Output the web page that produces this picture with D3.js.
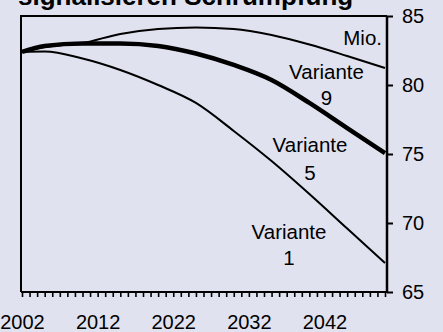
<!DOCTYPE html>
<html><head><meta charset="utf-8">
<script src="https://cdn.jsdelivr.net/npm/d3@7/dist/d3.min.js"></script>
<style>
html,body{margin:0;padding:0;background:#e0e2ef;}
svg{display:block;font-family:"Liberation Sans",Arial,sans-serif;}
</style></head>
<body>
<svg id="c" width="443" height="332"></svg>
<script>
const title = "signalisieren Schrumpfung";
const years = [2002, 2005, 2010, 2015, 2020, 2025, 2030, 2035, 2040, 2045, 2050];
const variante9 = [82.4, 82.75, 83.04, 83.7, 84.06, 84.17, 84.06, 83.62, 82.93, 82.1, 81.23];
const variante5 = [82.4, 82.83, 83.01, 83.01, 82.83, 82.28, 81.45, 80.36, 78.70, 76.88, 75.07];
const variante1 = [82.4, 82.43, 81.92, 81.09, 80.0, 78.70, 76.67, 74.49, 72.10, 69.6, 67.1];
const xTickLabels = [2002, 2012, 2022, 2032, 2042];
const yTickLabels = [65, 70, 75, 80, 85];
const unitLabel = "Mio.";
const seriesNames = ["Variante", "Variante", "Variante"];
const seriesNums = ["9", "5", "1"];

const svg = d3.select("#c");
const pL = 21, pR = 387, pT = 16, pB = 292;
const x = d3.scaleLinear().domain([2002, 2050]).range([22, 385]);
const y = d3.scaleLinear().domain([65, 85]).range([pB, pT]);

svg.append("text").attr("x", 18).attr("y", 5)
  .attr("font-size", 26).attr("font-weight", "bold").text(title);

const line = d3.line().x(d => x(d[0])).y(d => y(d[1])).curve(d3.curveMonotoneX);
const series = [
  {vals: variante9, w: 2},
  {vals: variante1, w: 2},
  {vals: variante5, w: 4.5}
];
series.forEach(s => {
  svg.append("path").datum(years.map((yr, i) => [yr, s.vals[i]]))
    .attr("d", line).attr("fill", "none").attr("stroke", "#000")
    .attr("stroke-width", s.w).attr("stroke-linejoin", "round");
});

// frame
const fr = svg.append("g").attr("stroke", "#000").attr("stroke-width", 2).attr("fill", "none");
fr.append("line").attr("x1", pL).attr("x2", pL).attr("y1", pT).attr("y2", pB);
fr.append("line").attr("x1", pL - 1).attr("x2", pR).attr("y1", pT).attr("y2", pT);
fr.append("line").attr("x1", pL).attr("x2", pR).attr("y1", pB).attr("y2", pB);

// right axis
const yAxis = d3.axisRight(y).tickValues(yTickLabels).tickSize(6).tickPadding(9);
const ga = svg.append("g").attr("transform", `translate(${pR},0)`).call(yAxis);
ga.select(".domain").attr("stroke-width", 2.5).attr("d", `M0,${pT}V${pB}`);
ga.selectAll(".tick line").attr("stroke-width", 2);
ga.selectAll("text").attr("font-size", 20).attr("font-family", "Liberation Sans, Arial, sans-serif").attr("fill", "#000");

// bottom axis minor ticks
const yearTicks = d3.range(2002, 2051);
const gb = svg.append("g").attr("transform", `translate(0,${pB})`)
  .call(d3.axisBottom(x).tickValues(yearTicks).tickSize(5).tickFormat(""));
gb.select(".domain").remove();
gb.selectAll(".tick line").attr("stroke-width", 1.6);

// bottom labels
const gl = svg.append("g").attr("transform", `translate(0,${pB})`)
  .call(d3.axisBottom(x).tickValues(xTickLabels).tickSize(0).tickPadding(23).tickFormat(d3.format("d")));
gl.select(".domain").remove();
gl.selectAll("text").attr("font-size", 20).attr("font-family", "Liberation Sans, Arial, sans-serif").attr("fill", "#000");

// labels
svg.append("text").attr("x", 382).attr("y", 45).attr("font-size", 20.5).attr("text-anchor", "end").text(unitLabel);
const lab = svg.append("g").attr("font-size", 20.5).attr("text-anchor", "middle").attr("fill", "#000");
const labPos = [
  {cx: 326.5, b1: 78.5, b2: 105},
  {cx: 310, b1: 152, b2: 180},
  {cx: 289, b1: 238.5, b2: 264.5}
];
labPos.forEach((l, i) => {
  lab.append("text").attr("x", l.cx).attr("y", l.b1).text(seriesNames[i]);
  lab.append("text").attr("x", l.cx).attr("y", l.b2).text(seriesNums[i]);
});
</script>
</body></html>
